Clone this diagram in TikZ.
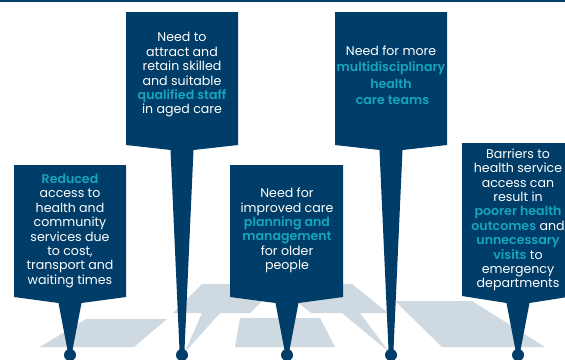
\documentclass[tikz,border=0pt]{standalone}
\usepackage{fontspec}
\setmainfont{Poppins}[BoldFont={Poppins SemiBold}]
\definecolor{navy}{RGB}{0,61,104}
\definecolor{teal}{RGB}{22,164,190}
\definecolor{shade}{RGB}{207,217,226}
\newcommand{\hl}[1]{{\bfseries\color{teal}#1}}
% \signpost{cx}{xl}{xr}{top}{ycorner}{yjoin}
\newcommand{\signpost}[6]{%
  \fill[navy] (#2,#4) -- (#3,#4) -- (#3,#5) -- ({#1+11.5},#6) -- ({#1+2.5},350)
    -- ({#1-2.5},350) -- ({#1-11.5},#6) -- (#2,#5) -- cycle;
  \fill[navy] (#1,355) circle (6);}
\tikzset{
  txt/.style={text=white, align=center, inner sep=0pt,
    font=\fontsize{12.6}{14.4}\selectfont},
  shadow/.style={fill=shade}
}
\begin{document}
\begin{tikzpicture}[x=1pt,y=-1pt]
\clip (0,0) rectangle (565,359);
\fill[white] (0,0) rectangle (565,359);
% top bar
\fill[navy] (0,0) rectangle (565,2.2);
% shadows
\fill[shadow] (40,347) -- (86,319) -- (167,319) -- (134,347) -- cycle;
\fill[shadow] (173,313) -- (202,284) -- (279,284) -- (250,313) -- cycle;
\fill[shadow] (202,313) -- (220,313) -- (185,352) -- cycle;
\fill[shadow] (311,313) -- (275,284) -- (352,284) -- (388,313) -- cycle;
\fill[shadow] (342,313) -- (360,313) -- (389,352) -- cycle;
\fill[shadow] (240,318) -- (320,318) -- (335,347) -- (235,347) -- cycle;
\fill[shadow] (395,301) -- (472,301) -- (545,347) -- (442,347) -- cycle;
% signs
\signpost{70}{14}{126}{165}{297}{303}
\signpost{182}{126}{238}{12}{145}{150}
\signpost{287}{230}{343}{165}{297}{303}
\signpost{391}{335}{447}{12}{145}{150}
\signpost{518}{462}{574}{143}{296}{303}
% texts
\node[txt] (t1) at (70,231) {\hl{Reduced}\\access to\\health and\\community\\services due\\to cost,\\transport and\\waiting times};
\node[txt] (t2) at (182,75) {Need to\\attract and\\retain skilled\\and suitable\\\hl{qualified staff}\\in aged care};
\node[txt] (t3) at (287,230.5) {Need for\\improved care\\\hl{planning and}\\\hl{management}\\for older\\people};
\node[txt, font=\fontsize{12.6}{16.5}\selectfont] (t4) at (391,75) {Need for more\\\hl{multidisciplinary}\\\hl{health}\\\hl{\ care teams}};
\node[txt] (t5) at (518,220) {Barriers to\\health service\\access can\\result in\\\hl{poorer health}\\\hl{outcomes} and\\\hl{unnecessary}\\\hl{visits} to\\emergency\\departments};
\end{tikzpicture}
\end{document}
